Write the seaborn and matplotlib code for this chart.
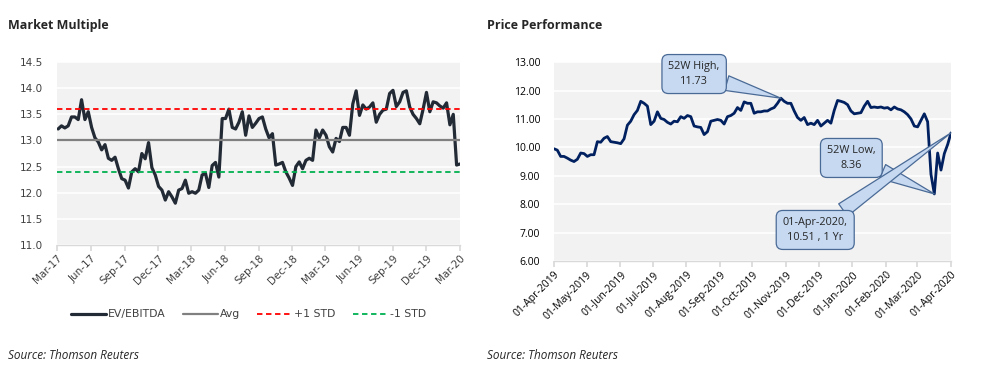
import pandas as pd
import matplotlib
matplotlib.use("Agg")
import matplotlib.pyplot as plt
import matplotlib.dates as mdates
import seaborn as sns

# EV/EBITDA multiple, roughly weekly, Mar-2017 .. Mar-2020
ev_ebitda = [
    13.22, 13.28, 13.24, 13.28, 13.45, 13.45, 13.40, 13.78, 13.40, 13.55,
    13.25, 13.05, 12.97, 12.82, 12.92, 12.66, 12.62, 12.68, 12.46, 12.27,
    12.24, 12.09, 12.40, 12.46, 12.40, 12.75, 12.65, 12.96, 12.48, 12.34,
    12.12, 12.05, 11.86, 12.02, 11.92, 11.80, 12.05, 12.08, 12.24, 11.99,
    12.02, 11.99, 12.05, 12.34, 12.37, 12.10, 12.52, 12.58, 12.30, 13.42,
    13.42, 13.60, 13.25, 13.22, 13.35, 13.55, 13.10, 13.47, 13.25, 13.33,
    13.42, 13.45, 13.22, 13.05, 13.13, 12.53, 12.55, 12.58, 12.40, 12.28,
    12.14, 12.50, 12.59, 12.46, 12.62, 12.66, 12.62, 13.20, 13.05, 13.20,
    13.10, 12.88, 12.78, 13.04, 12.98, 13.25, 13.25, 13.10, 13.70, 13.95,
    13.48, 13.68, 13.60, 13.64, 13.72, 13.35, 13.50, 13.58, 13.60, 13.90,
    13.96, 13.65, 13.74, 13.92, 13.95, 13.64, 13.50, 13.42, 13.32, 13.60,
    13.92, 13.55, 13.74, 13.72, 13.66, 13.62, 13.72, 13.30, 13.50, 12.53,
    12.55,
]
avg_level = 13.0
plus_std = 13.6
minus_std = 12.4

# share price, Apr-2019 .. Apr-2020
price = [
    9.95, 9.90, 9.68, 9.68, 9.62, 9.55, 9.50, 9.58, 9.80, 9.78,
    9.68, 9.74, 9.74, 10.20, 10.18, 10.32, 10.38, 10.20, 10.18, 10.16,
    10.13, 10.30, 10.78, 10.92, 11.15, 11.30, 11.62, 11.55, 11.45, 10.80,
    10.92, 11.25, 11.02, 10.98, 10.88, 10.82, 10.92, 10.90, 11.08, 11.02,
    11.12, 11.08, 10.75, 10.72, 10.70, 10.45, 10.55, 10.92, 10.95, 10.98,
    10.95, 10.82, 11.08, 11.12, 11.20, 11.40, 11.30, 11.60, 11.55, 11.55,
    11.20, 11.25, 11.25, 11.28, 11.28, 11.35, 11.40, 11.55, 11.73, 11.62,
    11.55, 11.55, 11.28, 11.05, 10.95, 11.05, 10.80, 10.85, 10.80, 10.95,
    10.75, 10.85, 10.95, 10.85, 11.30, 11.65, 11.62, 11.58, 11.50, 11.28,
    11.18, 11.20, 11.22, 11.45, 11.62, 11.40, 11.42, 11.40, 11.42, 11.38,
    11.40, 11.32, 11.42, 11.35, 11.32, 11.25, 11.15, 11.00, 10.75, 10.72,
    10.95, 11.18, 10.90, 9.05, 8.36, 9.80, 9.20, 9.78, 10.10, 10.51,
]

mm = pd.DataFrame({
    "date": pd.date_range("2017-03-04", "2020-03-01", periods=len(ev_ebitda)),
    "EV/EBITDA": ev_ebitda,
})
pp = pd.DataFrame({
    "date": pd.date_range("2019-04-01", "2020-04-01", periods=len(price)),
    "price": price,
})

sns.set_theme(style="white")
plt.rcParams["font.family"] = ["Open Sans", "DejaVu Sans"]

fig = plt.figure(figsize=(9.9, 3.81), dpi=100)
ax1 = fig.add_axes([0.0576, 0.357, 0.407, 0.480])
ax2 = fig.add_axes([0.5596, 0.315, 0.401, 0.522])

bg = "#f2f2f2"
for ax in (ax1, ax2):
    ax.set_facecolor(bg)
    for s in ("top", "right", "left"):
        ax.spines[s].set_visible(False)
    ax.spines["bottom"].set_color("#d9d9d9")
    ax.spines["bottom"].set_linewidth(1.0)
    ax.grid(axis="y", color="white", linewidth=1.2)
    ax.set_axisbelow(True)
    ax.tick_params(axis="x", which="major", bottom=True, length=4, color="#d9d9d9",
                   labelsize=7.5, pad=2)
    ax.tick_params(axis="y", left=False, labelsize=7.5, pad=4)

# ---- Market Multiple ----
sns.lineplot(data=mm, x="date", y="EV/EBITDA", ax=ax1, color="#222a35", lw=2.3,
             label="EV/EBITDA", legend=False)
ax1.axhline(avg_level, color="#808080", lw=1.6, label="Avg")
ax1.axhline(plus_std, color="#ff0000", lw=1.3, ls=(0, (3, 2)), label="+1 STD")
ax1.axhline(minus_std, color="#00b050", lw=1.3, ls=(0, (3, 2)), label="-1 STD")
ax1.set_ylim(11.0, 14.5)
ax1.set_yticks([11.0, 11.5, 12.0, 12.5, 13.0, 13.5, 14.0, 14.5])
ax1.yaxis.set_major_formatter(matplotlib.ticker.FormatStrFormatter("%.1f"))
ax1.set_xlim(pd.Timestamp("2017-03-01"), pd.Timestamp("2020-03-01"))
ax1.xaxis.set_major_locator(mdates.MonthLocator(bymonth=[3, 6, 9, 12]))
ax1.xaxis.set_major_formatter(mdates.DateFormatter("%b-%y"))
for lab in ax1.get_xticklabels():
    lab.set_rotation(45)
    lab.set_ha("right")
    lab.set_rotation_mode("anchor")
for lab in ax1.get_yticklabels() + ax1.get_xticklabels():
    lab.set_family("DejaVu Sans")
    lab.set_color("#404040")
ax1.set_xlabel("")
ax1.set_ylabel("")
leg = ax1.legend(loc="center", bbox_to_anchor=(0.475, -0.38), ncol=4, frameon=False,
                 fontsize=7.8, handlelength=3.2, columnspacing=1.6, handletextpad=0.2)
for t in leg.get_texts():
    t.set_family("DejaVu Sans")
    t.set_color("#404040")

# ---- Price Performance ----
sns.lineplot(data=pp, x="date", y="price", ax=ax2, color="#002060", lw=2.0)
ax2.set_ylim(6, 13)
ax2.set_yticks(range(6, 14))
ax2.yaxis.set_major_formatter(matplotlib.ticker.FormatStrFormatter("%.2f"))
ax2.set_xlim(pd.Timestamp("2019-04-01"), pd.Timestamp("2020-04-01"))
ax2.xaxis.set_major_locator(mdates.MonthLocator())
ax2.xaxis.set_major_formatter(mdates.DateFormatter("%d-%b-%Y"))
for lab in ax2.get_xticklabels():
    lab.set_rotation(45)
    lab.set_ha("right")
    lab.set_rotation_mode("anchor")
for lab in ax2.get_yticklabels() + ax2.get_xticklabels():
    lab.set_color("black")
ax2.set_xlabel("")
ax2.set_ylabel("")

box = dict(boxstyle="round,pad=0.6,rounding_size=0.6", fc="#c6d9f1", ec="#4a6a96", lw=0.9)
arrow = dict(arrowstyle="wedge,tail_width=1.4,shrink_factor=0.5", fc="#c6d9f1",
             ec="#4a6a96", lw=0.9, shrinkA=0, shrinkB=0)

hi = pp.loc[pp["price"].idxmax()]
lo = pp.loc[pp["price"].idxmin()]
last = pp.iloc[-1]
ax2.annotate(f"52W High,\n{hi['price']:.2f}", xy=(hi["date"], hi["price"]),
             xytext=(0.353, 0.94), textcoords="axes fraction", ha="center", va="center",
             fontsize=7.8, bbox=box, arrowprops=arrow, linespacing=1.5)
ax2.annotate(f"52W Low,\n{lo['price']:.2f}", xy=(lo["date"], lo["price"]),
             xytext=(0.749, 0.518), textcoords="axes fraction", ha="center", va="center",
             fontsize=7.8, bbox=box, arrowprops=arrow, linespacing=1.5)
ax2.annotate(f"{last['date']:%d-%b-%Y},\n{last['price']:.2f} , 1 Yr",
             xy=(last["date"], last["price"]),
             xytext=(0.658, 0.156), textcoords="axes fraction", ha="center", va="center",
             fontsize=7.8, bbox=box, arrowprops=arrow, linespacing=1.5)

fig.text(0.008, 0.932, "Market Multiple", fontsize=9, fontweight="bold", va="center")
fig.text(0.492, 0.932, "Price Performance", fontsize=9, fontweight="bold", va="center")
fig.text(0.008, 0.068, "Source: Thomson Reuters", fontsize=8.5, style="italic", va="center")
fig.text(0.492, 0.068, "Source: Thomson Reuters", fontsize=8.5, style="italic", va="center")

fig.savefig("out.png", dpi=100)
